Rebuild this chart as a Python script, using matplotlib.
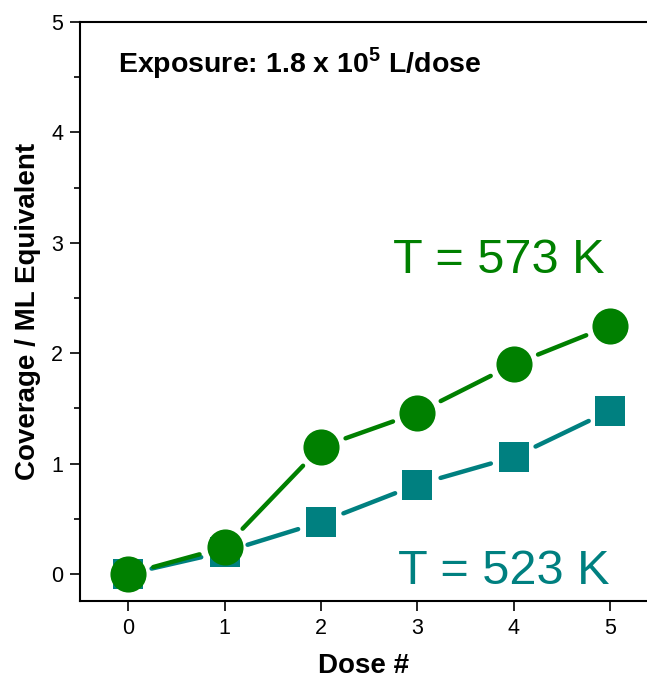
import matplotlib
matplotlib.use("Agg")
import matplotlib.pyplot as plt
import numpy as np

plt.rcParams['font.family'] = ['Liberation Sans', 'DejaVu Sans']
plt.rcParams['mathtext.fontset'] = 'custom'
plt.rcParams['mathtext.rm'] = 'Liberation Sans:bold'
plt.rcParams['mathtext.bf'] = 'Liberation Sans:bold'

# coverage vs. number of doses
dose = [0, 1, 2, 3, 4, 5]
cov_573 = [0.0, 0.24, 1.15, 1.46, 1.90, 2.25]
cov_523 = [0.0, 0.20, 0.47, 0.81, 1.06, 1.48]

green = '#008000'
teal = '#008080'

fig = plt.figure(figsize=(6.47, 6.82), dpi=100)
ax = fig.add_axes([0.1236, 0.1188, 0.8764, 0.8489])
ax.set_xlim(-0.5, 5.38)
ax.set_ylim(-0.245, 5.0)


def gapped_line(x, y, color, trim, lw=3.2):
    # Origin-style connecting line: each segment stops short of the symbols
    pts = ax.transData.transform(np.column_stack([x, y]))
    for p0, p1 in zip(pts[:-1], pts[1:]):
        d = p1 - p0
        L = np.hypot(*d)
        if L <= 2 * trim:
            continue
        u = d / L
        seg = ax.transData.inverted().transform([p0 + u * trim, p1 - u * trim])
        ax.plot(seg[:, 0], seg[:, 1], color=color, lw=lw,
                solid_capstyle='round', zorder=2)


gapped_line(dose, cov_523, teal, 24)
gapped_line(dose, cov_573, green, 26)
ax.plot(dose, cov_523, 's', ms=22, color=teal, mec=teal, mew=0, zorder=3)
ax.plot(dose, cov_573, 'o', ms=26, color=green, mec=green, mew=0, zorder=4)

ax.text(0.552, 0.566, 'T = 573 K', transform=ax.transAxes, fontsize=35,
        color=green, ha='left', va='baseline')
ax.text(0.561, 0.029, 'T = 523 K', transform=ax.transAxes, fontsize=35,
        color=teal, ha='left', va='baseline')
ax.text(0.067, 0.914, r'Exposure: 1.8 x 10$^{\mathbf{5}}$ L/dose',
        transform=ax.transAxes, fontsize=20.5, fontweight='bold',
        ha='left', va='baseline')

ax.set_xticks(dose)
ax.set_yticks([0, 1, 2, 3, 4, 5])
ax.set_yticks(np.arange(0.5, 5, 1.0), minor=True)
ax.tick_params(which='major', direction='out', length=7, width=1.2,
               labelsize=15.5, pad=5)
ax.tick_params(which='minor', direction='out', length=4, width=1.2)
ax.spines['right'].set_visible(False)
for s in ['left', 'bottom', 'top']:
    ax.spines[s].set_linewidth(1.5)

ax.set_xlabel('Dose #', fontsize=20, fontweight='bold', labelpad=10)
ax.set_ylabel('Coverage / ML Equivalent', fontsize=20, fontweight='bold',
              labelpad=7)

fig.savefig('out.png', dpi=100)
